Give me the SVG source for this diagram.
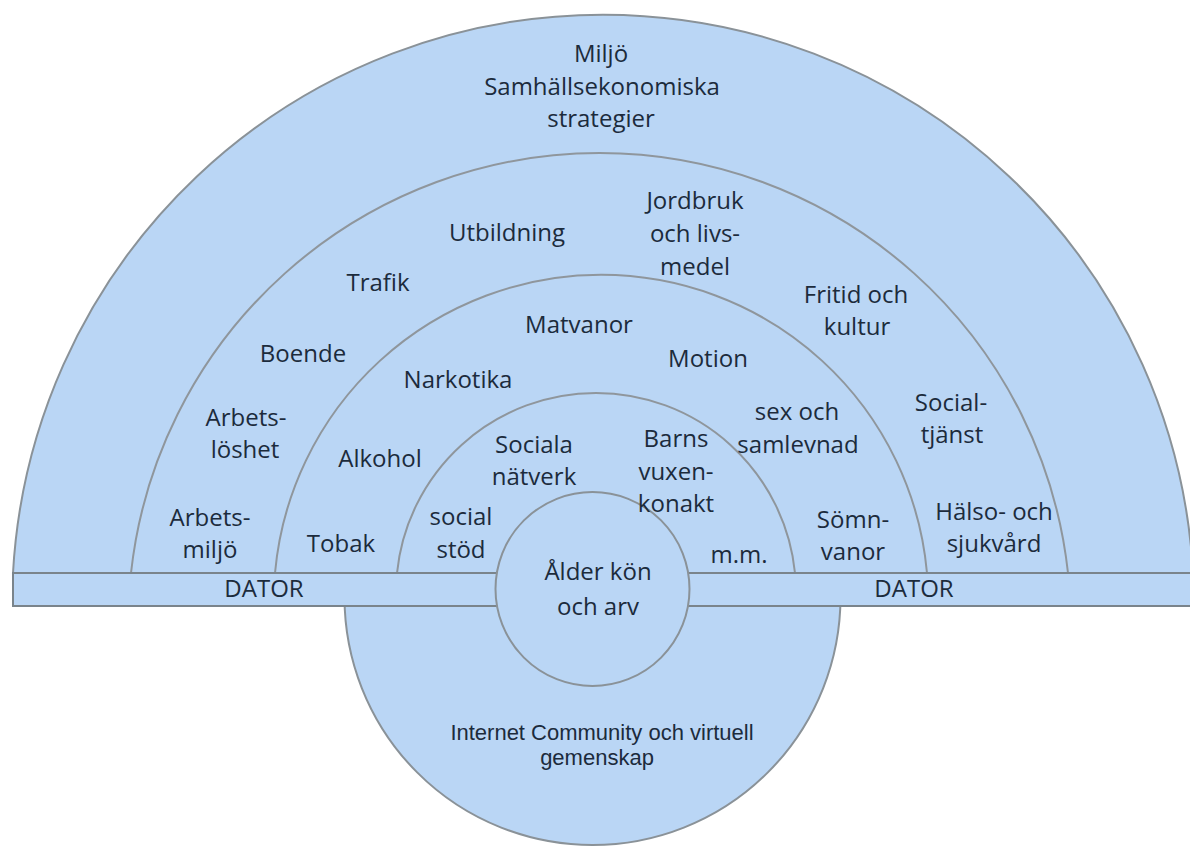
<svg xmlns="http://www.w3.org/2000/svg" width="1190" height="846" viewBox="0 0 1190 846">
  <style>
    .fill { fill: #bad6f5; }
    .edge { stroke: #8a9298; stroke-width: 2; }
    .ring { fill: none; stroke: #8f969c; stroke-width: 2; }
    .band { fill: #bad6f5; stroke: #7a848b; stroke-width: 2; }
    text { font-family: "Open Sans", "Noto Sans", "DejaVu Sans", sans-serif; font-size: 24px; fill: #1c2b3c; text-anchor: middle; }
    .arial { font-family: "Liberation Sans", Arial, sans-serif; font-size: 22px; }
  </style>
  <rect width="1190" height="846" fill="#ffffff"/>

  <g id="shapes">
    <circle id="virtual-disc" class="fill edge" cx="592.5" cy="597" r="248"/>
    <path id="outer-half" class="fill edge" d="M 13 573 A 590.9 590.9 0 0 1 1193 573 Z"/>
    <path id="ring4" class="ring" d="M 131 573 A 471.3 471.3 0 0 1 1068 573"/>
    <path id="ring3" class="ring" d="M 275 573 A 327.3 327.3 0 0 1 927 573"/>
    <path id="ring2" class="ring" d="M 397 573 A 200 200 0 0 1 795 573"/>
    <rect id="dator-band" class="band" x="13" y="573" width="1190" height="33"/>
    <circle id="core" class="fill edge" cx="592.5" cy="589" r="97"/>
  </g>

  <g id="connectors"></g>

  <g id="node-outer">
    <text x="601" y="62">Miljö</text>
    <text x="602" y="95">Samhällsekonomiska</text>
    <text x="601" y="127">strategier</text>
  </g>

  <g id="node-ring4">
    <text x="507" y="241">Utbildning</text>
    <text x="695" y="209">Jordbruk</text>
    <text x="695" y="242">och livs-</text>
    <text x="695" y="275">medel</text>
    <text x="378" y="291">Trafik</text>
    <text x="856" y="303">Fritid och</text>
    <text x="857" y="335">kultur</text>
    <text x="303" y="362">Boende</text>
    <text x="246" y="426">Arbets-</text>
    <text x="245" y="458">löshet</text>
    <text x="951" y="411">Social-</text>
    <text x="952" y="443">tjänst</text>
    <text x="210" y="526">Arbets-</text>
    <text x="210" y="558">miljö</text>
    <text x="994" y="520">Hälso- och</text>
    <text x="994" y="552">sjukvård</text>
  </g>

  <g id="node-ring3">
    <text x="579" y="333">Matvanor</text>
    <text x="708" y="367">Motion</text>
    <text x="458" y="388">Narkotika</text>
    <text x="797" y="420">sex och</text>
    <text x="798" y="453">samlevnad</text>
    <text x="380" y="467">Alkohol</text>
    <text x="341" y="552">Tobak</text>
    <text x="853" y="528">Sömn-</text>
    <text x="853" y="560">vanor</text>
  </g>

  <g id="node-ring2">
    <text x="534" y="453">Sociala</text>
    <text x="534" y="485">nätverk</text>
    <text x="676" y="447">Barns</text>
    <text x="676" y="480">vuxen-</text>
    <text x="676" y="512">konakt</text>
    <text x="461" y="525">social</text>
    <text x="461" y="558">stöd</text>
    <text x="739" y="563">m.m.</text>
  </g>

  <g id="node-core">
    <text x="598" y="580">Ålder kön</text>
    <text x="598" y="615">och arv</text>
  </g>

  <g id="node-dator-left">
    <text x="264" y="597">DATOR</text>
  </g>
  <g id="node-dator-right">
    <text x="914" y="597">DATOR</text>
  </g>

  <g id="node-internet">
    <text class="arial" x="602" y="740">Internet Community och virtuell</text>
    <text class="arial" x="597" y="765">gemenskap</text>
  </g>
</svg>
